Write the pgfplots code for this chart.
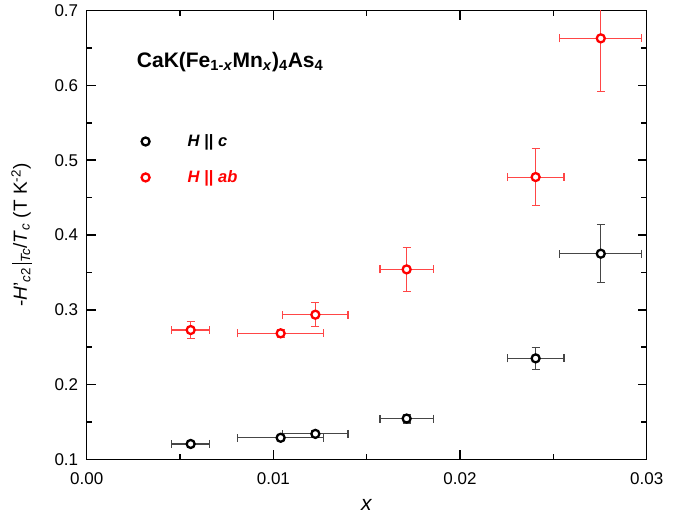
\documentclass[border=0pt]{standalone}
\usepackage{fontspec}
\setmainfont{Liberation Sans}
\usepackage{pgfplots}
\usepackage{pgfplotstable}
\pgfplotsset{compat=1.18}
\definecolor{errred}{RGB}{255,70,70}
\definecolor{errgray}{RGB}{70,70,70}
\pgfplotstableread{
x y ex ey
0.00557 0.1205 0.00103 0.003
0.01039 0.1288 0.0023 0.003
0.01225 0.1340 0.00175 0.004
0.01714 0.1545 0.00143 0.006
0.02405 0.2350 0.00152 0.0147
0.02754 0.3750 0.00219 0.0388
}\datac
\pgfplotstableread{
x y ex ey
0.00557 0.2729 0.00103 0.0114
0.01039 0.2685 0.0023 0.005
0.01225 0.2934 0.00175 0.016
0.01714 0.3540 0.00143 0.0295
0.02405 0.4775 0.00152 0.0377
0.02754 0.6630 0.00219 0.0705
}\dataab
\begin{document}
\begin{tikzpicture}
\begin{axis}[
  width=560pt, height=448.6pt, scale only axis,
  xmin=0, xmax=0.03, ymin=0.1, ymax=0.7,
  xtick={0,0.01,0.02,0.03}, minor x tick num=1,
  ytick={0.1,0.2,0.3,0.4,0.5,0.6,0.7}, minor y tick num=1,
  scaled x ticks=false, scaled y ticks=false,
  tick align=inside,
  major tick length=9pt, minor tick length=5.5pt,
  axis line style={line width=1.5pt},
  every tick/.style={line width=1.5pt, black},
  /pgf/number format/assume math mode=true,
  xticklabel style={/pgf/number format/fixed, /pgf/number format/precision=2, /pgf/number format/fixed zerofill, yshift=-10pt},
  yticklabel style={/pgf/number format/fixed, /pgf/number format/precision=1, /pgf/number format/fixed zerofill, xshift=-5pt},
  tick label style={font=\fontsize{17}{20}\selectfont},
  xlabel={\textit{x}},
  xlabel style={font=\fontsize{21}{25}\selectfont, yshift=-8pt},
  ylabel={-\textit{H}'\textsubscript{\textit{c}2}\,\rule[-0.25em]{0.09em}{1.05em}\textsubscript{\textit{Tc}}/\textit{T}\textsubscript{\textit{c}} (T K\textsuperscript{-2})},
  ylabel style={font=\fontsize{19}{23}\selectfont, yshift=16pt},
  legend style={at={(axis cs:0.00293,0.537)}, anchor=north west, draw=none, fill=none,
    font=\bfseries\itshape\fontsize{16.5}{19}\selectfont, row sep=18.5pt, inner sep=0pt},
  legend cell align=left,
]
\addplot[only marks, mark=*, mark size=4pt, mark options={draw=black, fill=white, line width=2.3pt},
  error bars/.cd, x dir=both, x explicit, y dir=both, y explicit,
  error bar style={line width=1.1pt, errgray},
  error mark options={rotate=90, line width=1.1pt, errgray, mark size=4pt, fill=none}]
  table[x=x, y=y, x error=ex, y error=ey]{\datac};
\addlegendentry{\hspace{36pt}\textcolor{black}{H \textup{||} c}}
\addplot[only marks, mark=*, mark size=4pt, mark options={draw=red, fill=white, line width=2.3pt},
  error bars/.cd, x dir=both, x explicit, y dir=both, y explicit,
  error bar style={line width=1.1pt, errred},
  error mark options={rotate=90, line width=1.1pt, errred, mark size=4pt, fill=none}]
  table[x=x, y=y, x error=ex, y error=ey]{\dataab};
\addlegendentry{\hspace{36pt}\textcolor{red}{H \textup{||} ab}}
\node[anchor=base west, font=\bfseries\fontsize{21}{25}\selectfont, inner sep=0pt] at (axis cs:0.00268,0.6242)
  {CaK(Fe\textsubscript{1-\textit{x}}Mn\textsubscript{\textit{x}})\textsubscript{4}As\textsubscript{4}};
\end{axis}
\pgfresetboundingbox
\path ([xshift=-86.7pt,yshift=-59.7pt]current axis.south west) rectangle ([xshift=46.3pt,yshift=10.7pt]current axis.north east);
\end{tikzpicture}
\end{document}
